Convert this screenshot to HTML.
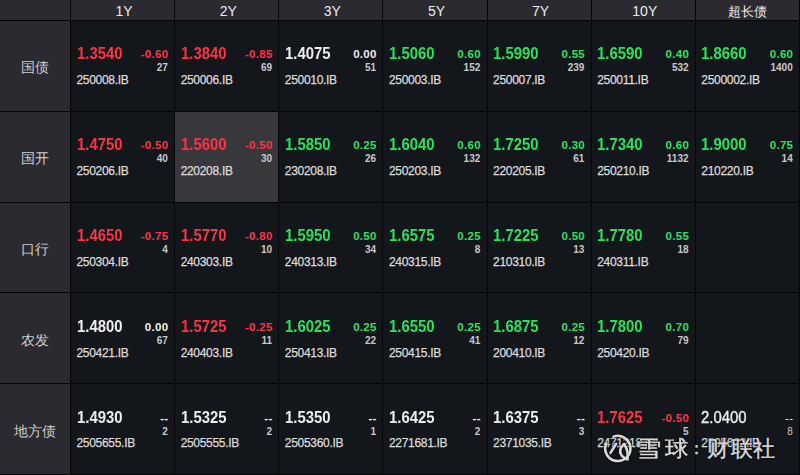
<!DOCTYPE html><html><head><meta charset="utf-8"><style>
html,body{margin:0;padding:0;}
body{width:800px;height:475px;overflow:hidden;background:#050608;position:relative;font-family:"Liberation Sans",sans-serif;}
.a{position:absolute;white-space:nowrap;line-height:1;}
.bg{position:absolute;}
.p{font-size:16px;font-weight:bold;transform:scaleX(0.93);transform-origin:0 0;}
.c{font-size:11.5px;font-weight:bold;text-align:right;letter-spacing:0.3px;}
.n{font-size:10px;font-weight:bold;color:#c8c8c8;text-align:right;}
.d{font-size:12px;color:#dcdcdc;letter-spacing:-0.3px;-webkit-text-stroke:0.25px #dcdcdc;}
.h{font-size:14px;color:#ececec;text-align:center;}
.l{font-size:14px;color:#cfcfcf;text-align:center;}
.w{font-size:22px;transform-origin:0 0;color:#d8d8d8;font-weight:400;-webkit-text-stroke:0.45px #d8d8d8;text-shadow:0 0 2px #000,0 0 2px #000,0 0 1px #000;}
</style></head><body>

<div class="bg" style="left:0.00px;top:0.00px;width:70.00px;height:20.00px;background:#2b2a30"></div>
<div class="bg" style="left:71.00px;top:0.00px;width:103.14px;height:20.00px;background:#2b2a30"></div>
<div class="bg" style="left:175.14px;top:0.00px;width:103.14px;height:20.00px;background:#2b2a30"></div>
<div class="bg" style="left:279.29px;top:0.00px;width:103.14px;height:20.00px;background:#2b2a30"></div>
<div class="bg" style="left:383.43px;top:0.00px;width:103.14px;height:20.00px;background:#2b2a30"></div>
<div class="bg" style="left:487.57px;top:0.00px;width:103.14px;height:20.00px;background:#2b2a30"></div>
<div class="bg" style="left:591.72px;top:0.00px;width:103.14px;height:20.00px;background:#2b2a30"></div>
<div class="bg" style="left:695.86px;top:0.00px;width:103.14px;height:20.00px;background:#2b2a30"></div>
<div class="bg" style="left:0.00px;top:21.00px;width:70.00px;height:90.00px;background:#2b2a30"></div>
<div class="bg" style="left:71.00px;top:21.00px;width:103.14px;height:90.00px;background:#13161b"></div>
<div class="bg" style="left:175.14px;top:21.00px;width:103.14px;height:90.00px;background:#13161b"></div>
<div class="bg" style="left:279.29px;top:21.00px;width:103.14px;height:90.00px;background:#13161b"></div>
<div class="bg" style="left:383.43px;top:21.00px;width:103.14px;height:90.00px;background:#13161b"></div>
<div class="bg" style="left:487.57px;top:21.00px;width:103.14px;height:90.00px;background:#13161b"></div>
<div class="bg" style="left:591.72px;top:21.00px;width:103.14px;height:90.00px;background:#13161b"></div>
<div class="bg" style="left:695.86px;top:21.00px;width:103.14px;height:90.00px;background:#13161b"></div>
<div class="bg" style="left:0.00px;top:112.00px;width:70.00px;height:90.00px;background:#2b2a30"></div>
<div class="bg" style="left:71.00px;top:112.00px;width:103.14px;height:90.00px;background:#13161b"></div>
<div class="bg" style="left:175.14px;top:112.00px;width:103.14px;height:90.00px;background:#38373c"></div>
<div class="bg" style="left:279.29px;top:112.00px;width:103.14px;height:90.00px;background:#13161b"></div>
<div class="bg" style="left:383.43px;top:112.00px;width:103.14px;height:90.00px;background:#13161b"></div>
<div class="bg" style="left:487.57px;top:112.00px;width:103.14px;height:90.00px;background:#13161b"></div>
<div class="bg" style="left:591.72px;top:112.00px;width:103.14px;height:90.00px;background:#13161b"></div>
<div class="bg" style="left:695.86px;top:112.00px;width:103.14px;height:90.00px;background:#13161b"></div>
<div class="bg" style="left:0.00px;top:203.00px;width:70.00px;height:89.00px;background:#2b2a30"></div>
<div class="bg" style="left:71.00px;top:203.00px;width:103.14px;height:89.00px;background:#13161b"></div>
<div class="bg" style="left:175.14px;top:203.00px;width:103.14px;height:89.00px;background:#13161b"></div>
<div class="bg" style="left:279.29px;top:203.00px;width:103.14px;height:89.00px;background:#13161b"></div>
<div class="bg" style="left:383.43px;top:203.00px;width:103.14px;height:89.00px;background:#13161b"></div>
<div class="bg" style="left:487.57px;top:203.00px;width:103.14px;height:89.00px;background:#13161b"></div>
<div class="bg" style="left:591.72px;top:203.00px;width:103.14px;height:89.00px;background:#13161b"></div>
<div class="bg" style="left:695.86px;top:203.00px;width:103.14px;height:89.00px;background:#13161b"></div>
<div class="bg" style="left:0.00px;top:293.00px;width:70.00px;height:90.00px;background:#2b2a30"></div>
<div class="bg" style="left:71.00px;top:293.00px;width:103.14px;height:90.00px;background:#13161b"></div>
<div class="bg" style="left:175.14px;top:293.00px;width:103.14px;height:90.00px;background:#13161b"></div>
<div class="bg" style="left:279.29px;top:293.00px;width:103.14px;height:90.00px;background:#13161b"></div>
<div class="bg" style="left:383.43px;top:293.00px;width:103.14px;height:90.00px;background:#13161b"></div>
<div class="bg" style="left:487.57px;top:293.00px;width:103.14px;height:90.00px;background:#13161b"></div>
<div class="bg" style="left:591.72px;top:293.00px;width:103.14px;height:90.00px;background:#13161b"></div>
<div class="bg" style="left:695.86px;top:293.00px;width:103.14px;height:90.00px;background:#13161b"></div>
<div class="bg" style="left:0.00px;top:384.00px;width:70.00px;height:90.00px;background:#2b2a30"></div>
<div class="bg" style="left:71.00px;top:384.00px;width:103.14px;height:90.00px;background:#13161b"></div>
<div class="bg" style="left:175.14px;top:384.00px;width:103.14px;height:90.00px;background:#13161b"></div>
<div class="bg" style="left:279.29px;top:384.00px;width:103.14px;height:90.00px;background:#13161b"></div>
<div class="bg" style="left:383.43px;top:384.00px;width:103.14px;height:90.00px;background:#13161b"></div>
<div class="bg" style="left:487.57px;top:384.00px;width:103.14px;height:90.00px;background:#13161b"></div>
<div class="bg" style="left:591.72px;top:384.00px;width:103.14px;height:90.00px;background:#13161b"></div>
<div class="bg" style="left:695.86px;top:384.00px;width:103.14px;height:90.00px;background:#13161b"></div>
<div class="a h" style="left:72.50px;width:103.14px;top:3.5px">1Y</div>
<div class="a h" style="left:176.64px;width:103.14px;top:3.5px">2Y</div>
<div class="a h" style="left:280.79px;width:103.14px;top:3.5px">3Y</div>
<div class="a h" style="left:384.93px;width:103.14px;top:3.5px">5Y</div>
<div class="a h" style="left:489.07px;width:103.14px;top:3.5px">7Y</div>
<div class="a h" style="left:593.22px;width:103.14px;top:3.5px">10Y</div>
<div class="a h" style="left:695.96px;width:103.14px;top:4.5px;font-size:13.3px">超长债</div>
<div class="a l" style="left:0;width:70px;top:60.00px">国债</div>
<div class="a p" style="left:76.50px;top:45.90px;color:#fb3445">1.3540</div>
<div class="a c" style="right:631.56px;top:49.20px;color:#fb3445">-0.60</div>
<div class="a n" style="right:632.16px;top:62.90px">27</div>
<div class="a d" style="left:76.50px;top:73.80px">250008.IB</div>
<div class="a p" style="left:180.64px;top:45.90px;color:#fb3445">1.3840</div>
<div class="a c" style="right:527.41px;top:49.20px;color:#fb3445">-0.85</div>
<div class="a n" style="right:528.01px;top:62.90px">69</div>
<div class="a d" style="left:180.64px;top:73.80px">250006.IB</div>
<div class="a p" style="left:284.79px;top:45.90px;color:#eeeeee">1.4075</div>
<div class="a c" style="right:423.27px;top:49.20px;color:#eeeeee">0.00</div>
<div class="a n" style="right:423.87px;top:62.90px">51</div>
<div class="a d" style="left:284.79px;top:73.80px">250010.IB</div>
<div class="a p" style="left:388.93px;top:45.90px;color:#2be05f">1.5060</div>
<div class="a c" style="right:319.13px;top:49.20px;color:#2be05f">0.60</div>
<div class="a n" style="right:319.73px;top:62.90px">152</div>
<div class="a d" style="left:388.93px;top:73.80px">250003.IB</div>
<div class="a p" style="left:493.07px;top:45.90px;color:#2be05f">1.5990</div>
<div class="a c" style="right:214.98px;top:49.20px;color:#2be05f">0.55</div>
<div class="a n" style="right:215.58px;top:62.90px">239</div>
<div class="a d" style="left:493.07px;top:73.80px">250007.IB</div>
<div class="a p" style="left:597.22px;top:45.90px;color:#2be05f">1.6590</div>
<div class="a c" style="right:110.84px;top:49.20px;color:#2be05f">0.40</div>
<div class="a n" style="right:111.44px;top:62.90px">532</div>
<div class="a d" style="left:597.22px;top:73.80px">250011.IB</div>
<div class="a p" style="left:701.36px;top:45.90px;color:#2be05f">1.8660</div>
<div class="a c" style="right:6.70px;top:49.20px;color:#2be05f">0.60</div>
<div class="a n" style="right:7.30px;top:62.90px">1400</div>
<div class="a d" style="left:701.36px;top:73.80px">2500002.IB</div>
<div class="a l" style="left:0;width:70px;top:150.90px">国开</div>
<div class="a p" style="left:76.50px;top:136.80px;color:#fb3445">1.4750</div>
<div class="a c" style="right:631.56px;top:140.10px;color:#fb3445">-0.50</div>
<div class="a n" style="right:632.16px;top:153.80px">40</div>
<div class="a d" style="left:76.50px;top:164.70px">250206.IB</div>
<div class="a p" style="left:180.64px;top:136.80px;color:#fb3445">1.5600</div>
<div class="a c" style="right:527.41px;top:140.10px;color:#fb3445">-0.50</div>
<div class="a n" style="right:528.01px;top:153.80px">30</div>
<div class="a d" style="left:180.64px;top:164.70px">220208.IB</div>
<div class="a p" style="left:284.79px;top:136.80px;color:#2be05f">1.5850</div>
<div class="a c" style="right:423.27px;top:140.10px;color:#2be05f">0.25</div>
<div class="a n" style="right:423.87px;top:153.80px">26</div>
<div class="a d" style="left:284.79px;top:164.70px">230208.IB</div>
<div class="a p" style="left:388.93px;top:136.80px;color:#2be05f">1.6040</div>
<div class="a c" style="right:319.13px;top:140.10px;color:#2be05f">0.60</div>
<div class="a n" style="right:319.73px;top:153.80px">132</div>
<div class="a d" style="left:388.93px;top:164.70px">250203.IB</div>
<div class="a p" style="left:493.07px;top:136.80px;color:#2be05f">1.7250</div>
<div class="a c" style="right:214.98px;top:140.10px;color:#2be05f">0.30</div>
<div class="a n" style="right:215.58px;top:153.80px">61</div>
<div class="a d" style="left:493.07px;top:164.70px">220205.IB</div>
<div class="a p" style="left:597.22px;top:136.80px;color:#2be05f">1.7340</div>
<div class="a c" style="right:110.84px;top:140.10px;color:#2be05f">0.60</div>
<div class="a n" style="right:111.44px;top:153.80px">1132</div>
<div class="a d" style="left:597.22px;top:164.70px">250210.IB</div>
<div class="a p" style="left:701.36px;top:136.80px;color:#2be05f">1.9000</div>
<div class="a c" style="right:6.70px;top:140.10px;color:#2be05f">0.75</div>
<div class="a n" style="right:7.30px;top:153.80px">14</div>
<div class="a d" style="left:701.36px;top:164.70px">210220.IB</div>
<div class="a l" style="left:0;width:70px;top:241.80px">口行</div>
<div class="a p" style="left:76.50px;top:227.70px;color:#fb3445">1.4650</div>
<div class="a c" style="right:631.56px;top:231.00px;color:#fb3445">-0.75</div>
<div class="a n" style="right:632.16px;top:244.70px">4</div>
<div class="a d" style="left:76.50px;top:255.60px">250304.IB</div>
<div class="a p" style="left:180.64px;top:227.70px;color:#fb3445">1.5770</div>
<div class="a c" style="right:527.41px;top:231.00px;color:#fb3445">-0.80</div>
<div class="a n" style="right:528.01px;top:244.70px">10</div>
<div class="a d" style="left:180.64px;top:255.60px">240303.IB</div>
<div class="a p" style="left:284.79px;top:227.70px;color:#2be05f">1.5950</div>
<div class="a c" style="right:423.27px;top:231.00px;color:#2be05f">0.50</div>
<div class="a n" style="right:423.87px;top:244.70px">34</div>
<div class="a d" style="left:284.79px;top:255.60px">240313.IB</div>
<div class="a p" style="left:388.93px;top:227.70px;color:#2be05f">1.6575</div>
<div class="a c" style="right:319.13px;top:231.00px;color:#2be05f">0.25</div>
<div class="a n" style="right:319.73px;top:244.70px">8</div>
<div class="a d" style="left:388.93px;top:255.60px">240315.IB</div>
<div class="a p" style="left:493.07px;top:227.70px;color:#2be05f">1.7225</div>
<div class="a c" style="right:214.98px;top:231.00px;color:#2be05f">0.50</div>
<div class="a n" style="right:215.58px;top:244.70px">13</div>
<div class="a d" style="left:493.07px;top:255.60px">210310.IB</div>
<div class="a p" style="left:597.22px;top:227.70px;color:#2be05f">1.7780</div>
<div class="a c" style="right:110.84px;top:231.00px;color:#2be05f">0.55</div>
<div class="a n" style="right:111.44px;top:244.70px">18</div>
<div class="a d" style="left:597.22px;top:255.60px">240311.IB</div>
<div class="a l" style="left:0;width:70px;top:332.70px">农发</div>
<div class="a p" style="left:76.50px;top:318.60px;color:#eeeeee">1.4800</div>
<div class="a c" style="right:631.56px;top:321.90px;color:#eeeeee">0.00</div>
<div class="a n" style="right:632.16px;top:335.60px">67</div>
<div class="a d" style="left:76.50px;top:346.50px">250421.IB</div>
<div class="a p" style="left:180.64px;top:318.60px;color:#fb3445">1.5725</div>
<div class="a c" style="right:527.41px;top:321.90px;color:#fb3445">-0.25</div>
<div class="a n" style="right:528.01px;top:335.60px">11</div>
<div class="a d" style="left:180.64px;top:346.50px">240403.IB</div>
<div class="a p" style="left:284.79px;top:318.60px;color:#2be05f">1.6025</div>
<div class="a c" style="right:423.27px;top:321.90px;color:#2be05f">0.25</div>
<div class="a n" style="right:423.87px;top:335.60px">22</div>
<div class="a d" style="left:284.79px;top:346.50px">250413.IB</div>
<div class="a p" style="left:388.93px;top:318.60px;color:#2be05f">1.6550</div>
<div class="a c" style="right:319.13px;top:321.90px;color:#2be05f">0.25</div>
<div class="a n" style="right:319.73px;top:335.60px">41</div>
<div class="a d" style="left:388.93px;top:346.50px">250415.IB</div>
<div class="a p" style="left:493.07px;top:318.60px;color:#2be05f">1.6875</div>
<div class="a c" style="right:214.98px;top:321.90px;color:#2be05f">0.25</div>
<div class="a n" style="right:215.58px;top:335.60px">12</div>
<div class="a d" style="left:493.07px;top:346.50px">200410.IB</div>
<div class="a p" style="left:597.22px;top:318.60px;color:#2be05f">1.7800</div>
<div class="a c" style="right:110.84px;top:321.90px;color:#2be05f">0.70</div>
<div class="a n" style="right:111.44px;top:335.60px">79</div>
<div class="a d" style="left:597.22px;top:346.50px">250420.IB</div>
<div class="a l" style="left:0;width:70px;top:423.60px">地方债</div>
<div class="a p" style="left:76.50px;top:409.50px;color:#eeeeee">1.4930</div>
<div class="a c" style="right:631.56px;top:412.80px;color:#eeeeee">--</div>
<div class="a n" style="right:632.16px;top:426.50px">2</div>
<div class="a d" style="left:76.50px;top:437.40px">2505655.IB</div>
<div class="a p" style="left:180.64px;top:409.50px;color:#eeeeee">1.5325</div>
<div class="a c" style="right:527.41px;top:412.80px;color:#eeeeee">--</div>
<div class="a n" style="right:528.01px;top:426.50px">2</div>
<div class="a d" style="left:180.64px;top:437.40px">2505555.IB</div>
<div class="a p" style="left:284.79px;top:409.50px;color:#eeeeee">1.5350</div>
<div class="a c" style="right:423.27px;top:412.80px;color:#eeeeee">--</div>
<div class="a n" style="right:423.87px;top:426.50px">1</div>
<div class="a d" style="left:284.79px;top:437.40px">2505360.IB</div>
<div class="a p" style="left:388.93px;top:409.50px;color:#eeeeee">1.6425</div>
<div class="a c" style="right:319.13px;top:412.80px;color:#eeeeee">--</div>
<div class="a n" style="right:319.73px;top:426.50px">2</div>
<div class="a d" style="left:388.93px;top:437.40px">2271681.IB</div>
<div class="a p" style="left:493.07px;top:409.50px;color:#eeeeee">1.6375</div>
<div class="a c" style="right:214.98px;top:412.80px;color:#eeeeee">--</div>
<div class="a n" style="right:215.58px;top:426.50px">3</div>
<div class="a d" style="left:493.07px;top:437.40px">2371035.IB</div>
<div class="a p" style="left:597.22px;top:409.50px;color:#fb3445">1.7625</div>
<div class="a c" style="right:110.84px;top:412.80px;color:#fb3445">-0.50</div>
<div class="a n" style="right:111.44px;top:426.50px">5</div>
<div class="a d" style="left:597.22px;top:437.40px">2471218.IB</div>
<div class="a p" style="left:701.36px;top:409.50px;color:#eeeeee;font-weight:normal;-webkit-text-stroke:0.35px #eeeeee">2.0400</div>
<div class="a c" style="right:6.70px;top:412.80px;color:#eeeeee;font-weight:normal">--</div>
<div class="a n" style="right:7.30px;top:426.50px;font-weight:normal">8</div>
<div class="a d" style="left:701.36px;top:437.40px">2505622.IB</div>
<svg class="a" style="left:0;top:0;overflow:visible" width="800" height="475" viewBox="0 0 800 475"><g fill="none" stroke="#d8d8d8" stroke-width="2.6" stroke-linecap="round" stroke-linejoin="round" style="filter:drop-shadow(0 0 1px #000)"><path d="M 613.5 436.6 A 12.6 12.6 0 1 1 606.2 443.5"/><path d="M 616.2 443.8 L 610.5 452.8"/><path d="M 624 443.8 Q 617.8 450.5 621.5 455.3 Q 624.5 458.8 627.5 459.5 Q 628.8 451 624 443.8 Z"/></g></svg>
<div class="a w" style="left:635.30px;top:438px;transform:scaleX(1.20)">雪</div>
<div class="a w" style="left:665.20px;top:438px;transform:scaleX(1.07)">球</div>
<div class="a w" style="left:707.20px;top:438px;transform:scaleX(1.00)">财</div>
<div class="a w" style="left:730.60px;top:438px;transform:scaleX(1.00)">联</div>
<div class="a w" style="left:753.00px;top:438px;transform:scaleX(1.00)">社</div>
<div class="a w" style="left:687.9px;top:439.5px;font-size:17px">：</div>
</body></html>
